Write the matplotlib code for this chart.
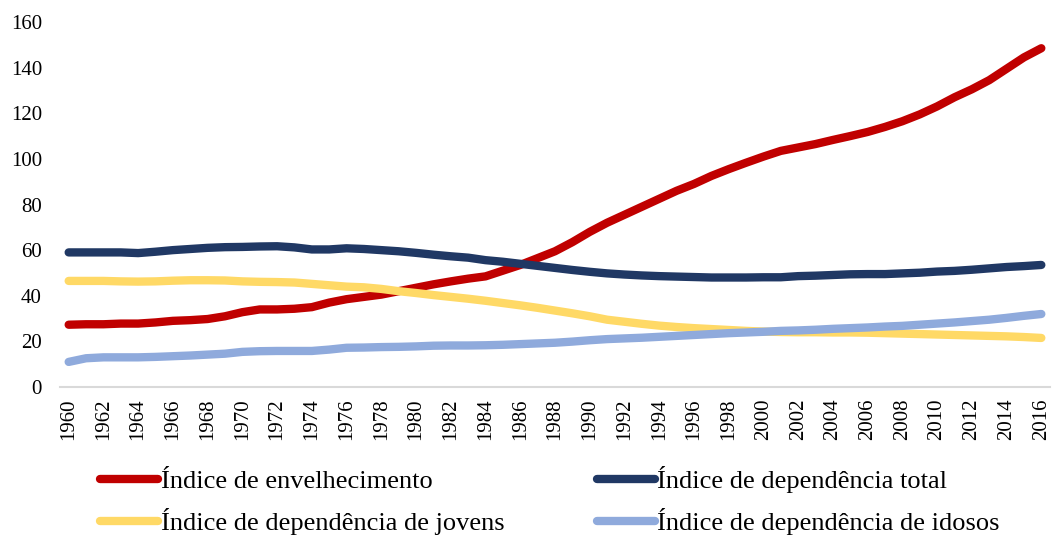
import numpy as np
import matplotlib
matplotlib.use('Agg')
import matplotlib.pyplot as plt

plt.rcParams['font.family'] = ['Liberation Serif', 'DejaVu Serif']

years = list(range(1960, 2017))

# Índice de envelhecimento
envelhecimento = [27.3, 27.5, 27.5, 27.8, 27.8, 28.3, 29.0, 29.3, 29.8, 31.0,
                  32.8, 34.0, 34.0, 34.3, 35.0, 37.0, 38.5, 39.5, 40.5, 42.0,
                  43.5, 45.0, 46.3, 47.5, 48.5, 51.0, 53.5, 56.5, 59.5, 63.5,
                  68.0, 72.0, 75.5, 79.0, 82.5, 86.0, 89.0, 92.5, 95.5, 98.3,
                  101.0, 103.5, 105.0, 106.5, 108.3, 110.0, 111.8, 114.0, 116.5, 119.5,
                  123.0, 127.0, 130.5, 134.5, 139.5, 144.5, 148.5]

# Índice de dependência total
dep_total = [59.0, 59.0, 59.0, 59.0, 58.7, 59.3, 60.0, 60.5, 61.0, 61.3,
             61.4, 61.6, 61.7, 61.2, 60.3, 60.3, 60.8, 60.5, 60.0, 59.5,
             58.8, 58.0, 57.3, 56.7, 55.6, 54.9, 54.0, 53.1, 52.2, 51.3,
             50.5, 49.8, 49.3, 48.9, 48.6, 48.4, 48.2, 48.0, 48.0, 48.0,
             48.1, 48.1, 48.6, 48.8, 49.1, 49.4, 49.5, 49.5, 49.8, 50.1,
             50.6, 50.9, 51.4, 52.0, 52.6, 53.0, 53.5]

# Índice de dependência de jovens
dep_jovens = [46.5, 46.5, 46.5, 46.3, 46.2, 46.3, 46.6, 46.8, 46.8, 46.7,
              46.3, 46.1, 46.0, 45.8, 45.2, 44.6, 44.0, 43.7, 43.0, 42.0,
              41.2, 40.3, 39.5, 38.7, 37.8, 36.8, 35.8, 34.7, 33.5, 32.3,
              31.0, 29.5, 28.6, 27.7, 26.9, 26.3, 25.8, 25.4, 25.0, 24.6,
              24.3, 24.1, 24.0, 24.0, 23.9, 23.9, 23.8, 23.6, 23.4, 23.2,
              23.0, 22.8, 22.6, 22.4, 22.2, 21.9, 21.5]

# Índice de dependência de idosos
dep_idosos = [11.0, 12.6, 13.0, 13.0, 13.0, 13.2, 13.5, 13.8, 14.2, 14.6,
              15.4, 15.7, 15.8, 15.8, 15.8, 16.4, 17.2, 17.3, 17.5, 17.6,
              17.8, 18.1, 18.2, 18.2, 18.3, 18.5, 18.8, 19.1, 19.4, 19.9,
              20.5, 21.0, 21.3, 21.6, 22.0, 22.4, 22.8, 23.2, 23.6, 23.9,
              24.2, 24.6, 24.8, 25.1, 25.5, 25.8, 26.1, 26.5, 26.8, 27.3,
              27.8, 28.3, 28.9, 29.5, 30.3, 31.2, 32.0]

labels = ['Índice de envelhecimento', 'Índice de dependência total',
          'Índice de dependência de jovens', 'Índice de dependência de idosos']
colors = ['#C00000', '#203864', '#FFD966', '#8FAADC']

fig = plt.figure(figsize=(10.52, 5.35), dpi=100)
ax = fig.add_axes([60 / 1052, 1 - 387 / 535, 990 / 1052, 365 / 535])

lines = []
for data, lab, col in zip([envelhecimento, dep_total, dep_jovens, dep_idosos], labels, colors):
    ln, = ax.plot(years, data, color=col, lw=6, solid_capstyle='round',
                  solid_joinstyle='round', label=lab)
    lines.append(ln)

ax.set_xlim(1959.5, 2016.5)
ax.set_ylim(0, 160)
ax.set_yticks(range(0, 161, 20))
ax.set_xticks(years[::2])
ax.set_xticklabels([str(y) for y in years[::2]], rotation=90)
ax.tick_params(axis='both', length=0, labelsize=15)
ax.tick_params(axis='y', pad=13)
ax.tick_params(axis='x', pad=8)
for s in ['top', 'right', 'left']:
    ax.spines[s].set_visible(False)
ax.spines['bottom'].set_color('#D9D9D9')
ax.spines['bottom'].set_linewidth(1.5)

# legend: column 1 = red, yellow ; column 2 = navy, light blue
fig.legend([lines[0], lines[2], lines[1], lines[3]],
           [labels[0], labels[2], labels[1], labels[3]],
           ncol=2, loc='upper left', bbox_to_anchor=(100 / 1052, 1 - 466 / 535),
           frameon=False, fontsize=19, handlelength=2.2, handletextpad=0.1,
           columnspacing=3.5, labelspacing=0.58, borderpad=0, borderaxespad=0)

fig.savefig('out.png', dpi=100)
